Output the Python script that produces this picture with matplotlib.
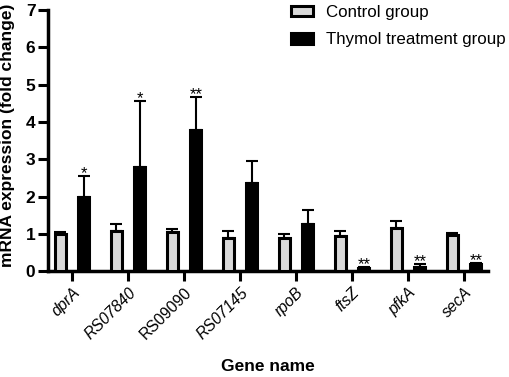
import matplotlib
matplotlib.use("Agg")
import matplotlib.pyplot as plt
import numpy as np
from matplotlib.patches import Patch

genes = ["dprA", "RS07840", "RS09090", "RS07145", "rpoB", "ftsZ", "pfkA", "secA"]
italic = [True, True, False, True, True, True, True, True]
control = [1.0, 1.07, 1.05, 0.89, 0.9, 0.94, 1.15, 0.98]
control_err = [0.05, 0.2, 0.08, 0.18, 0.09, 0.14, 0.18, 0.04]
thymol = [1.98, 2.8, 3.78, 2.35, 1.26, 0.08, 0.12, 0.19]
thymol_err = [0.58, 1.76, 0.9, 0.6, 0.38, 0.04, 0.06, 0.03]
stars = ["*", "*", "**", "", "", "**", "**", "**"]

plt.rcParams['font.family'] = ['Liberation Sans', 'DejaVu Sans']

fig = plt.figure(figsize=(5.10, 3.77), dpi=100)
ax = fig.add_axes([0.094, 0.281, 0.863, 0.692])

x = np.arange(len(genes))
off = 0.21
w = 0.19
ax.bar(x - off, control, w, color="#d9d9d9", edgecolor="black", linewidth=2.2, zorder=3)
ax.bar(x + off, thymol, w, color="black", edgecolor="black", linewidth=2.2, zorder=3)
ax.errorbar(x - off, control, yerr=[np.zeros(len(x)), control_err], fmt="none",
            ecolor="black", elinewidth=1.5, capsize=4, capthick=1.5, zorder=2)
ax.errorbar(x + off, thymol, yerr=[np.zeros(len(x)), thymol_err], fmt="none",
            ecolor="black", elinewidth=1.5, capsize=4, capthick=1.5, zorder=2)

for xi, t, e, s in zip(x, thymol, thymol_err, stars):
    if s:
        ax.text(xi + off, t + e - 0.14, s, ha="center", va="bottom", fontsize=12)

ax.set_xlim(-0.43, 7.43)
ax.set_ylim(0, 7)
ax.set_yticks(range(0, 8))
ax.set_xticks(x)
ax.set_xticklabels(genes, rotation=45, ha="right", rotation_mode="anchor", fontsize=11.3)
for lab, it in zip(ax.get_xticklabels(), italic):
    lab.set_style("italic" if it else "normal")
ax.tick_params(axis="y", labelsize=12.5, width=2.2, length=7, pad=2)
ax.tick_params(axis="x", width=2.2, length=7, pad=3)
for sp in ["top", "right"]:
    ax.spines[sp].set_visible(False)
for sp in ["left", "bottom"]:
    ax.spines[sp].set_linewidth(2.5)
for lab in ax.get_yticklabels():
    lab.set_fontweight("bold")

ax.set_ylabel("mRNA expression (fold change)", fontsize=12.5, fontweight="bold")
ax.yaxis.set_label_coords(-0.075, 0.52)
ax.set_xlabel("Gene name", fontsize=12.5, fontweight="bold", labelpad=12)

handles = [Patch(facecolor="#d9d9d9", edgecolor="black", linewidth=2.2),
           Patch(facecolor="black", edgecolor="black", linewidth=2.2)]
ax.legend(handles, ["Control group", "Thymol treatment group"], loc="upper left",
          bbox_to_anchor=(0.537, 1.047), frameon=False, fontsize=12.2,
          labelspacing=0.75, handlelength=1.3, handleheight=0.55, handletextpad=0.75,
          borderaxespad=0)

fig.savefig("out.png", dpi=100)
